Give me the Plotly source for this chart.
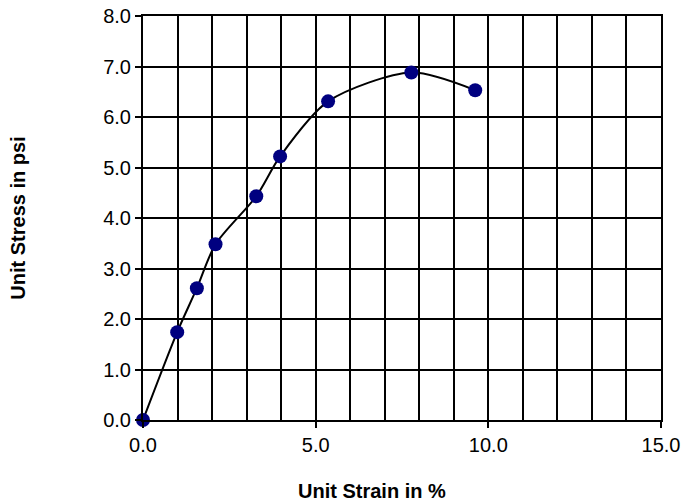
import plotly.graph_objects as go

strain = [0.0, 0.99, 1.56, 2.1, 3.28, 3.97, 5.36, 7.77, 9.62]
stress = [0.0, 1.74, 2.61, 3.48, 4.43, 5.22, 6.31, 6.88, 6.53]

x_ticks = [0, 5, 10, 15]
x_tick_labels = ["0.0", "5.0", "10.0", "15.0"]
y_ticks = [0, 1, 2, 3, 4, 5, 6, 7, 8]
y_tick_labels = ["0.0", "1.0", "2.0", "3.0", "4.0", "5.0", "6.0", "7.0", "8.0"]

fig = go.Figure()
fig.add_trace(go.Scatter(
    x=strain, y=stress, mode="lines+markers",
    line=dict(color="black", width=2, shape="spline", smoothing=0.8),
    marker=dict(color="#000080", size=14),
    cliponaxis=False, showlegend=False,
))

font = "Liberation Sans, Arial, sans-serif"
fig.update_layout(
    width=684, height=501,
    margin=dict(l=143, r=23, t=16, b=81),
    paper_bgcolor="white", plot_bgcolor="white",
    font=dict(family=font, size=20, color="black"),
    xaxis=dict(
        range=[0, 15], tickvals=x_ticks, ticktext=x_tick_labels,
        showgrid=True, gridcolor="black", gridwidth=2,
        minor=dict(dtick=1, showgrid=True, gridcolor="black", gridwidth=2),
        ticks="outside", ticklen=6, tickwidth=2, tickcolor="black",
        showline=True, linecolor="black", linewidth=2, mirror=True,
        zeroline=False, automargin=False, ticklabeloverflow="allow",
        tickfont=dict(size=20),
    ),
    yaxis=dict(
        range=[0, 8], tickvals=y_ticks, ticktext=y_tick_labels,
        showgrid=True, gridcolor="black", gridwidth=2,
        ticks="outside", ticklen=6, tickwidth=2, tickcolor="black",
        showline=True, linecolor="black", linewidth=2, mirror=True,
        zeroline=False, automargin=False, ticklabeloverflow="allow",
        tickfont=dict(size=20),
        title=dict(text="<b>Unit Stress in psi</b>", standoff=72,
                   font=dict(size=20, family=font)),
    ),
    annotations=[dict(
        text="<b>Unit Strain in %</b>", xref="paper", yref="paper",
        x=0.442, y=-0.176, xanchor="center", yanchor="middle",
        showarrow=False, font=dict(size=20, family=font, color="black"),
    )],
)

fig.write_html("out.html",
               config={"displayModeBar": False},
               post_script="document.body.style.margin='0';document.body.style.overflow='hidden';")
